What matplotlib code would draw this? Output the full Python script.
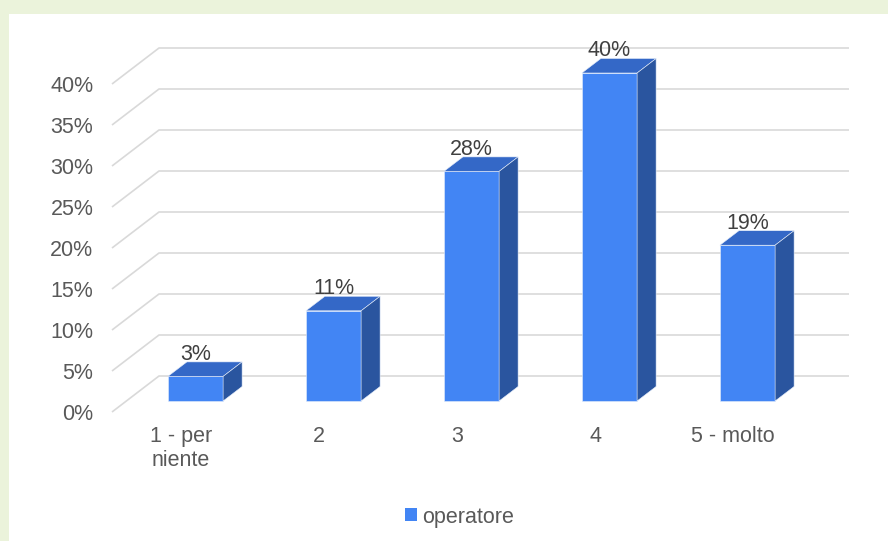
import matplotlib
matplotlib.use("Agg")
import matplotlib.pyplot as plt
from matplotlib.patches import Polygon, Rectangle, Patch
import numpy as np

plt.rcParams['font.family'] = ['Liberation Sans', 'DejaVu Sans']

# ---- data -------------------------------------------------------------
categories = ["1 - per\nniente", "2", "3", "4", "5 - molto"]
values = [3, 11, 28, 40, 19]          # percent
y_ticks = [0, 5, 10, 15, 20, 25, 30, 35, 40]
series_name = "operatore"

# ---- styling ----------------------------------------------------------
W, H, DPI = 888, 541, 100
BG_OUTER = "#EBF3DB"
FRONT = "#4285F4"
TOP = "#3468C7"
SIDE = "#2A559F"
GRID = "#D9D9D9"
TICK_TXT = "#595959"
LABEL_TXT = "#404040"
FS = 15.5

# 3D depth (pixels): floor depth, bar offset into the floor, bar depth
FLOOR_DX, FLOOR_DY = 47, 36
BAR_OFF_DX, BAR_OFF_DY = 14.5, 11
BAR_DX, BAR_DY = 19, 14.5
BAR_WIDTH = 0.4

fig = plt.figure(figsize=(W / DPI, H / DPI), dpi=DPI, facecolor=BG_OUTER)
fig.add_artist(Rectangle((9 / W, 0), 1, (H - 14) / H, transform=fig.transFigure,
                         facecolor="white", edgecolor="none", zorder=0))

# front plane of the plot area
left, right, top, bottom = 112, 802, 84, 412
ax = fig.add_axes([left / W, (H - bottom) / H, (right - left) / W, (bottom - top) / H])
ax.set_xlim(-0.5, len(categories) - 0.5)
ax.set_ylim(0, 40)
ax.patch.set_visible(False)
for s in ax.spines.values():
    s.set_visible(False)


def shift(x, y, px, py):
    """Move a data point by (px, py) display pixels, returning data coords."""
    d = ax.transData.transform((x, y))
    return ax.transData.inverted().transform((d[0] + px, d[1] + py))


# gridlines: diagonal on the left wall + horizontal on the back wall
x0, x1 = ax.get_xlim()
for v in y_ticks:
    bx0, by0 = shift(x0, v, FLOOR_DX, FLOOR_DY)
    bx1, by1 = shift(x1, v, FLOOR_DX, FLOOR_DY)
    ax.plot([x0, bx0, bx1], [v, by0, by1], color=GRID, lw=1.2,
            solid_capstyle="butt", clip_on=False, zorder=1)

# bars
for i, v in enumerate(values):
    xl, xr = i - BAR_WIDTH / 2, i + BAR_WIDTH / 2
    p_bl = shift(xl, 0, BAR_OFF_DX, BAR_OFF_DY)
    p_br = shift(xr, 0, BAR_OFF_DX, BAR_OFF_DY)
    p_tl = shift(xl, v, BAR_OFF_DX, BAR_OFF_DY)
    p_tr = shift(xr, v, BAR_OFF_DX, BAR_OFF_DY)
    q_tl = shift(xl, v, BAR_OFF_DX + BAR_DX, BAR_OFF_DY + BAR_DY)
    q_tr = shift(xr, v, BAR_OFF_DX + BAR_DX, BAR_OFF_DY + BAR_DY)
    q_br = shift(xr, 0, BAR_OFF_DX + BAR_DX, BAR_OFF_DY + BAR_DY)
    kw = dict(closed=True, clip_on=False, edgecolor="#E6EEFB", linewidth=0.4, zorder=3)
    ax.add_patch(Polygon([p_bl, p_br, p_tr, p_tl], facecolor=FRONT, **kw))
    ax.add_patch(Polygon([p_tl, p_tr, q_tr, q_tl], facecolor=TOP, **kw))
    ax.add_patch(Polygon([p_br, q_br, q_tr, p_tr], facecolor=SIDE, **kw))
    lx, ly = shift(i, v, BAR_OFF_DX, BAR_OFF_DY + BAR_DY + 2)
    ax.text(lx, ly, f"{v}%", ha="center", va="baseline", fontsize=FS,
            color=LABEL_TXT, zorder=4)

# axis labels
ax.set_yticks(y_ticks)
ax.set_yticklabels([f"{t}%" for t in y_ticks])
ax.set_xticks(range(len(categories)))
ax.set_xticklabels(categories, linespacing=1.2)
ax.tick_params(axis="y", length=0, pad=13.5, labelsize=FS, labelcolor=TICK_TXT)
ax.tick_params(axis="x", length=0, pad=10, labelsize=FS, labelcolor=TICK_TXT)

# legend
fig.legend(handles=[Patch(facecolor=FRONT, edgecolor="none", label=series_name)],
           loc="center", bbox_to_anchor=(459.5 / W, (H - 517) / H),
           frameon=False, fontsize=FS, labelcolor=TICK_TXT,
           handlelength=0.55, handleheight=0.55, handletextpad=0.2)

fig.savefig("out.png", dpi=DPI, facecolor=fig.get_facecolor())
